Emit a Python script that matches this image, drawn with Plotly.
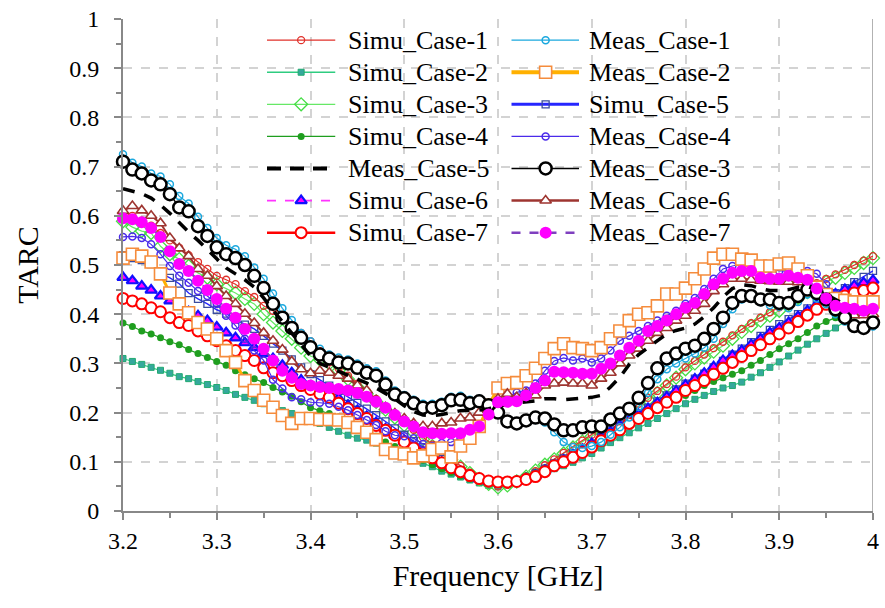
import plotly.graph_objects as go

# Frequency grid, 3.20 ... 4.00 GHz in 10 MHz steps
freq = [round(3.20 + 0.01 * k, 2) for k in range(81)]

simu_case_1 = [
    .609, .600, .590, .580, .565, .550, .535, .520, .506, .492,
    .478, .470, .461, .447, .435, .417, .407, .393, .377, .362,
    .345, .325, .302, .290, .275, .259, .244, .228, .212, .196,
    .180, .165, .150, .135, .120, .106, .092, .078, .066, .056,
    .050, .053, .060, .070, .081, .093, .105, .118, .131, .143,
    .155, .167, .180, .192, .205, .218, .230, .244, .258, .273,
    .292, .305, .318, .331, .344, .357, .370, .382, .393, .404,
    .414, .427, .440, .452, .463, .472, .481, .490, .500, .509,
    .518]
simu_case_2 = [
    .310, .304, .298, .292, .286, .280, .273, .269, .263, .257,
    .251, .245, .237, .231, .225, .218, .211, .204, .198, .190,
    .184, .178, .170, .162, .154, .148, .144, .138, .130, .122,
    .113, .106, .097, .090, .081, .075, .069, .063, .057, .052,
    .049, .053, .058, .065, .072, .079, .086, .092, .099, .108,
    .117, .128, .139, .149, .159, .169, .178, .188, .198, .208,
    .218, .227, .235, .243, .250, .255, .262, .272, .281, .292,
    .303, .315, .327, .339, .350, .361, .372, .385, .398, .408,
    .415]
simu_case_3 = [
    .589, .577, .569, .565, .538, .522, .512, .498, .484, .474,
    .461, .452, .443, .431, .421, .400, .383, .366, .350, .332,
    .315, .308, .300, .285, .268, .252, .238, .222, .206, .190,
    .175, .160, .146, .132, .118, .104, .090, .077, .065, .055,
    .048, .052, .060, .070, .082, .094, .105, .117, .129, .141,
    .152, .164, .176, .188, .200, .213, .226, .240, .255, .271,
    .288, .300, .312, .324, .336, .350, .364, .376, .387, .397,
    .407, .420, .433, .445, .457, .466, .474, .484, .494, .504,
    .514]
simu_case_4 = [
    .382, .375, .366, .360, .352, .344, .338, .328, .320, .312,
    .304, .296, .285, .277, .269, .261, .251, .242, .233, .222,
    .210, .204, .198, .191, .184, .175, .164, .152, .140, .131,
    .123, .112, .103, .094, .086, .078, .071, .065, .060, .057,
    .056, .060, .065, .072, .080, .088, .097, .107, .117, .124,
    .130, .142, .154, .166, .178, .186, .194, .207, .219, .227,
    .235, .245, .255, .263, .271, .278, .285, .296, .306, .318,
    .330, .340, .350, .363, .376, .385, .393, .405, .418, .426,
    .433]
simu_case_5 = [
    .520, .514, .510, .502, .484, .474, .462, .443, .431, .421,
    .409, .401, .389, .379, .370, .356, .340, .326, .308, .292,
    .278, .266, .255, .244, .232, .220, .208, .195, .182, .168,
    .155, .142, .130, .118, .106, .094, .083, .073, .065, .058,
    .055, .057, .061, .067, .076, .086, .097, .107, .117, .126,
    .136, .150, .164, .176, .188, .199, .210, .223, .235, .247,
    .259, .269, .279, .292, .305, .318, .330, .343, .356, .368,
    .380, .390, .400, .412, .423, .433, .443, .453, .465, .476,
    .488]
simu_case_6 = [
    .475, .468, .457, .449, .437, .427, .419, .405, .397, .387,
    .374, .362, .352, .342, .332, .320, .310, .296, .281, .266,
    .252, .245, .237, .229, .215, .204, .192, .180, .167, .154,
    .142, .130, .120, .110, .099, .089, .080, .072, .065, .060,
    .058, .058, .060, .065, .072, .082, .093, .103, .114, .125,
    .137, .149, .161, .173, .185, .196, .208, .220, .232, .244,
    .256, .268, .280, .293, .306, .316, .326, .338, .350, .362,
    .372, .383, .395, .407, .419, .430, .441, .450, .458, .464,
    .469]
simu_case_7 = [
    .432, .427, .421, .413, .405, .393, .383, .377, .366, .356,
    .346, .336, .326, .316, .306, .291, .281, .275, .265, .255,
    .247, .238, .231, .219, .208, .198, .188, .174, .164, .154,
    .140, .128, .118, .108, .098, .088, .080, .072, .066, .061,
    .059, .059, .060, .064, .070, .080, .092, .100, .109, .119,
    .130, .143, .154, .165, .178, .188, .198, .210, .221, .231,
    .245, .255, .265, .278, .290, .302, .314, .326, .338, .350,
    .360, .372, .385, .398, .410, .420, .428, .437, .443, .448,
    .453]

meas_case_1 = [
    .725, .708, .700, .686, .680, .664, .640, .625, .598, .575,
    .555, .540, .532, .518, .495, .472, .442, .412, .388, .362,
    .345, .330, .318, .312, .308, .300, .290, .284, .265, .245,
    .236, .226, .218, .218, .222, .232, .234, .226, .228, .215,
    .205, .182, .176, .180, .185, .180, .160, .140, .130, .128,
    .132, .140, .155, .170, .190, .212, .240, .268, .288, .300,
    .310, .320, .332, .350, .380, .410, .430, .432, .425, .418,
    .415, .412, .425, .440, .432, .420, .400, .385, .372, .368,
    .375]
meas_case_2 = [
    .514, .522, .518, .506, .482, .443, .421, .403, .383, .370,
    .350, .326, .302, .265, .245, .225, .211, .194, .178, .188,
    .188, .186, .186, .185, .180, .170, .160, .145, .125, .118,
    .116, .108, .112, .125, .128, .110, .132, .148, .172, .215,
    .250, .259, .261, .275, .290, .310, .330, .340, .332, .330,
    .326, .332, .350, .366, .387, .400, .403, .417, .441, .441,
    .453, .472, .492, .514, .522, .522, .512, .510, .498, .498,
    .502, .504, .492, .478, .455, .440, .432, .428, .425, .425,
    .425]
meas_case_3 = [
    .710, .694, .686, .672, .664, .644, .617, .609, .579, .559,
    .536, .522, .514, .500, .478, .453, .421, .393, .372, .352,
    .333, .318, .310, .302, .300, .291, .281, .275, .257, .237,
    .229, .219, .210, .210, .215, .225, .226, .219, .223, .215,
    .200, .182, .178, .184, .190, .188, .176, .164, .164, .170,
    .172, .172, .186, .198, .208, .230, .260, .290, .310, .320,
    .330, .336, .350, .370, .393, .423, .437, .437, .430, .430,
    .423, .423, .437, .450, .443, .430, .410, .393, .376, .372,
    .383]
meas_case_4 = [
    .557, .558, .555, .542, .522, .498, .478, .464, .447, .437,
    .421, .397, .377, .350, .326, .306, .267, .249, .231, .227,
    .221, .220, .218, .212, .205, .195, .185, .175, .162, .154,
    .152, .148, .136, .132, .138, .140, .148, .156, .170, .200,
    .215, .231, .241, .245, .259, .285, .305, .311, .306, .310,
    .302, .310, .326, .346, .356, .366, .376, .387, .397, .407,
    .421, .433, .451, .472, .492, .498, .502, .504, .500, .492,
    .488, .488, .494, .488, .482, .461, .440, .430, .425, .422,
    .420]
meas_case_5 = [
    .655, .650, .645, .636, .622, .605, .585, .567, .550, .532,
    .512, .494, .482, .470, .455, .433, .408, .385, .362, .338,
    .315, .300, .292, .285, .277, .268, .260, .250, .240, .228,
    .214, .202, .195, .194, .196, .200, .204, .205, .205, .208,
    .212, .218, .220, .221, .224, .228, .228, .226, .228, .230,
    .231, .235, .252, .272, .298, .318, .332, .348, .360, .367,
    .372, .380, .395, .413, .435, .452, .460, .458, .452, .448,
    .448, .450, .455, .456, .450, .440, .430, .420, .414, .410,
    .408]
meas_case_6 = [
    .610, .620, .611, .600, .585, .555, .534, .518, .492, .478,
    .457, .437, .421, .401, .382, .362, .346, .328, .304, .288,
    .280, .285, .281, .275, .269, .255, .245, .225, .211, .198,
    .188, .178, .172, .172, .178, .180, .188, .190, .200, .210,
    .228, .238, .231, .239, .235, .255, .259, .261, .259, .259,
    .255, .269, .281, .300, .316, .330, .346, .362, .372, .387,
    .397, .407, .421, .447, .461, .472, .472, .470, .468, .467,
    .466, .466, .465, .458, .443, .431, .417, .405, .398, .398,
    .400]
meas_case_7 = [
    .595, .593, .587, .575, .557, .528, .502, .488, .468, .449,
    .431, .411, .393, .370, .350, .330, .306, .285, .271, .258,
    .255, .252, .250, .248, .245, .240, .232, .222, .210, .195,
    .182, .172, .160, .158, .157, .158, .158, .165, .172, .196,
    .221, .222, .223, .235, .250, .265, .283, .282, .281, .279,
    .279, .289, .300, .316, .332, .346, .366, .376, .387, .400,
    .413, .423, .441, .461, .472, .484, .488, .488, .474, .472,
    .472, .478, .474, .470, .452, .432, .417, .413, .411, .407,
    .411]

x_ticks = [3.2, 3.3, 3.4, 3.5, 3.6, 3.7, 3.8, 3.9, 4.0]
x_tick_text = ["3.2", "3.3", "3.4", "3.5", "3.6", "3.7", "3.8", "3.9", "4"]
y_ticks = [0, 0.1, 0.2, 0.3, 0.4, 0.5, 0.6, 0.7, 0.8, 0.9, 1.0]
y_tick_text = ["0", "0.1", "0.2", "0.3", "0.4", "0.5", "0.6", "0.7", "0.8", "0.9", "1"]

FONT = "Liberation Serif"

# Series styles: name -> (values, line, marker, legend line width)
styles = {
    "Simu_Case-1": (simu_case_1, dict(color="#E0302A", width=1.2),
                    dict(symbol="circle-open", size=7, color="#E0302A", line=dict(width=1.3)), 1.2),
    "Simu_Case-2": (simu_case_2, dict(color="#2ECC80", width=1.2),
                    dict(symbol="square", size=6, color="#35A89C", line=dict(color="#22AA70", width=1)), 1.5),
    "Simu_Case-3": (simu_case_3, dict(color="#66E866", width=1.2),
                    dict(symbol="diamond-open", size=10, color="#44DD44", line=dict(width=1.3)), 1.2),
    "Simu_Case-4": (simu_case_4, dict(color="#1F9E1F", width=1.2),
                    dict(symbol="circle", size=7, color="#1F9E1F", line=dict(width=0)), 1.2),
    "Simu_Case-5": (simu_case_5, dict(color="#2626FF", width=1.4),
                    dict(symbol="square-open", size=7, color="#3A4C9E", line=dict(width=1.3)), 3),
    "Simu_Case-6": (simu_case_6, dict(color="#FF33FF", width=1.5, dash="dash"),
                    dict(symbol="triangle-up", size=10, color="#FF00FF", line=dict(color="#1010FF", width=2.2)), 1.8),
    "Simu_Case-7": (simu_case_7, dict(color="#FF0000", width=2),
                    dict(symbol="circle", size=11, color="white", line=dict(color="#FF0000", width=2)), 2.5),
    "Meas_Case-1": (meas_case_1, dict(color="#1BA8DE", width=1.2),
                    dict(symbol="circle-open", size=7, color="#1BA8DE", line=dict(width=1.5)), 1.2),
    "Meas_Case-2": (meas_case_2, dict(color="#FFB000", width=3),
                    dict(symbol="square", size=12, color="white", line=dict(color="#F58C3C", width=1.6)), 4),
    "Meas_Case-3": (meas_case_3, dict(color="black", width=1.5),
                    dict(symbol="circle", size=12, color="white", line=dict(color="black", width=2.5)), 1.5),
    "Meas_Case-4": (meas_case_4, dict(color="#4B2BEA", width=1.2),
                    dict(symbol="circle-open", size=7, color="#4B2BEA", line=dict(width=1.5)), 1.2),
    "Meas_Case-5": (meas_case_5, dict(color="black", width=3.5, dash="12px,10px"), None, 4),
    "Meas_Case-6": (meas_case_6, dict(color="#9E3530", width=2),
                    dict(symbol="triangle-up", size=10, color="white", line=dict(color="#9E3530", width=1.6)), 2.5),
    "Meas_Case-7": (meas_case_7, dict(color="#7F3FBF", width=2, dash="dash"),
                    dict(symbol="circle", size=12, color="#FF00FF", line=dict(width=0)), 2.5),
}

# Stacking order of the curves (first drawn at the bottom)
draw_order = ["Simu_Case-2", "Simu_Case-4", "Simu_Case-3", "Simu_Case-1", "Simu_Case-5",
              "Simu_Case-6", "Simu_Case-7", "Meas_Case-1", "Meas_Case-4", "Meas_Case-2",
              "Meas_Case-6", "Meas_Case-3", "Meas_Case-5", "Meas_Case-7"]

# Two-column key, top to bottom
key_col_1 = ["Simu_Case-1", "Simu_Case-2", "Simu_Case-3", "Simu_Case-4",
             "Meas_Case-5", "Simu_Case-6", "Simu_Case-7"]
key_col_2 = ["Meas_Case-1", "Meas_Case-2", "Simu_Case-5", "Meas_Case-4",
             "Meas_Case-3", "Meas_Case-6", "Meas_Case-7"]

fig = go.Figure()
for name in draw_order:
    vals, line, marker, _ = styles[name]
    fig.add_trace(go.Scatter(
        x=freq, y=vals, name=name,
        mode="lines+markers" if marker else "lines",
        line=line, marker=marker, cliponaxis=False, showlegend=False,
    ))

# Key drawn on a hidden overlay axis pair spanning the plot area (0..1 both ways)
key_row_top, key_row_step = 0.957, 0.0652
key_cols = [(key_col_1, 0.192, 0.283, 0.2375, 0.2975),
            (key_col_2, 0.518, 0.608, 0.5635, 0.619)]
annotations = []
for names, x0, x1, xm, xt in key_cols:
    for i, name in enumerate(names):
        _, line, marker, lw = styles[name]
        yk = key_row_top - i * key_row_step
        key_line = dict(line)
        key_line["width"] = lw
        if name == "Meas_Case-5":
            key_line["dash"] = "14px,9px"
        fig.add_trace(go.Scatter(x=[x0, x1], y=[yk, yk], mode="lines", line=key_line,
                                 xaxis="x2", yaxis="y2", showlegend=False, hoverinfo="skip",
                                 cliponaxis=False))
        if marker:
            fig.add_trace(go.Scatter(x=[xm], y=[yk], mode="markers", marker=marker,
                                     xaxis="x2", yaxis="y2", showlegend=False, hoverinfo="skip",
                                     cliponaxis=False))
        annotations.append(dict(x=xt, y=yk, xref="x2", yref="y2", text=name, showarrow=False,
                                xanchor="left", yanchor="middle",
                                font=dict(family=FONT, size=26, color="black")))

axis_common = dict(
    tickfont=dict(size=24, family=FONT, color="black"), ticks="outside", ticklen=7,
    tickcolor="#888888", tickwidth=1.5,
    showline=True, linecolor="#888888", linewidth=2,
    showgrid=True, gridcolor="#D3D3D3", gridwidth=1.5, griddash="dash",
    zeroline=False,
)

fig.update_layout(
    width=885, height=608,
    margin=dict(l=123, r=6, t=17, b=97),
    paper_bgcolor="white", plot_bgcolor="white",
    font=dict(family=FONT, color="black"),
    showlegend=False,
    xaxis=dict(
        range=[3.2, 4.0], tickvals=x_ticks, ticktext=x_tick_text,
        minor=dict(dtick=0.05, ticks="outside", ticklen=5, tickcolor="#888888", showgrid=False),
        title=dict(text="Frequency [GHz]", font=dict(size=30, family=FONT, color="black"), standoff=12),
        **axis_common,
    ),
    yaxis=dict(
        range=[0, 1], tickvals=y_ticks, ticktext=y_tick_text,
        minor=dict(dtick=0.05, ticks="outside", ticklen=5, tickcolor="#888888", showgrid=False),
        ticklabelstandoff=10,
        title=dict(text="TARC", font=dict(size=30, family=FONT, color="black"), standoff=22),
        **axis_common,
    ),
    xaxis2=dict(range=[0, 1], overlaying="x", visible=False, fixedrange=True),
    yaxis2=dict(range=[0, 1], overlaying="y", visible=False, fixedrange=True),
    annotations=annotations,
    shapes=[dict(type="line", xref="x", yref="paper", x0=4.0, x1=4.0, y0=0, y1=1,
                 line=dict(color="#999999", width=1.5), layer="below")],
)

fig.write_html("out.html")
